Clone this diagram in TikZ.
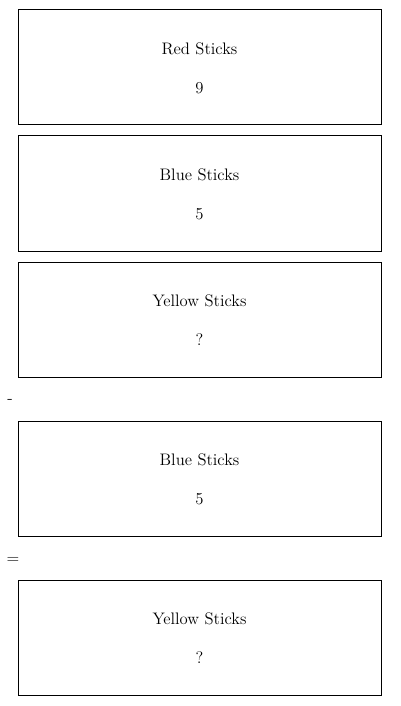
\documentclass[tikz,border=0pt]{standalone}
\usetikzlibrary{positioning}

\tikzset{every picture/.style={line width=0.75pt}}
\tikzset{
	stickbox/.style={draw, rectangle, inner sep=0pt, minimum width=272.25pt, minimum height=86.25pt},
	boxtext/.style={font=\fontsize{12.5}{15}\selectfont}
}

\begin{document}
\begin{tikzpicture}[x=0.75pt,y=0.75pt,yscale=-1,xscale=1]
	\useasboundingbox (0,0) rectangle (400,706);

	%Shape: Rectangle [id:red]
	\node [stickbox] (redbox) at (199.5,67.5) {};
	%Shape: Rectangle [id:blue]
	\node [stickbox] (bluebox) at (199.5,193.5) {};
	%Shape: Rectangle [id:yellow]
	\node [stickbox] (yellowbox) at (199.5,319.5) {};
	%Shape: Rectangle [id:blue2]
	\node [stickbox] (bluebox2) at (199.5,478.5) {};
	%Shape: Rectangle [id:yellow2]
	\node [stickbox] (yellowbox2) at (199.5,637.5) {};

	% Text Node
	\node [boxtext] (redlabel) at (199.5,49) {Red Sticks};
	% Text Node
	\node [boxtext] (redval) at (199.5,88) {9};
	% Text Node
	\node [boxtext] (bluelabel) at (199.5,175) {Blue Sticks};
	% Text Node
	\node [boxtext] (blueval) at (199.5,214) {5};
	% Text Node
	\node [boxtext] (yellowlabel) at (199.5,301) {Yellow Sticks};
	% Text Node
	\node [boxtext] (yellowval) at (199.5,340) {?};
	% Text Node
	\node [boxtext] (minus) at (10,401) {-};
	% Text Node
	\node [boxtext] (bluelabel2) at (199.5,460) {Blue Sticks};
	% Text Node
	\node [boxtext] (blueval2) at (199.5,499) {5};
	% Text Node
	\node [boxtext] (equals) at (13,560) {=};
	% Text Node
	\node [boxtext] (yellowlabel2) at (199.5,619) {Yellow Sticks};
	% Text Node
	\node [boxtext] (yellowval2) at (199.5,658) {?};

\end{tikzpicture}
\end{document}
